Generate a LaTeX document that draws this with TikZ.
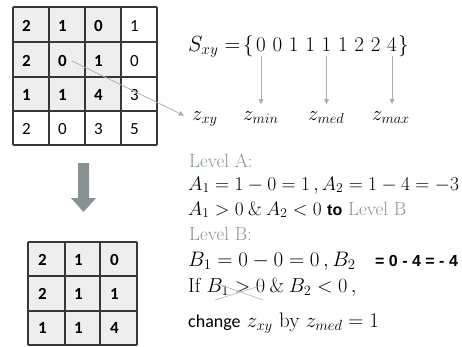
\RequirePackage{fix-cm}
\documentclass[tikz,border=0pt]{standalone}
\usepackage{fontspec}
\newfontfamily\calib{Carlito}
\newfontfamily\arialf{Liberation Sans}
\usetikzlibrary{arrows.meta,calc}
\definecolor{gridline}{RGB}{55,55,55}
\definecolor{cellfill}{RGB}{238,238,238}
\definecolor{lvl}{RGB}{135,148,148}
\definecolor{ptrgray}{RGB}{170,176,176}
\definecolor{crossgray}{RGB}{185,190,190}
\definecolor{blk}{RGB}{136,146,146}
\tikzset{
  cellnum/.style={anchor=west,inner sep=0pt,font=\calib\fontsize{17}{17}\selectfont},
  boldnum/.style={cellnum,font=\calib\bfseries\fontsize{17}{17}\selectfont},
  txt/.style={anchor=base west,inner sep=0pt},
  mathtxt/.style={txt,font=\fontsize{21}{24}\selectfont},
  ztxt/.style={txt,font=\fontsize{20.5}{24}\selectfont},
  setdigit/.style={anchor=base,inner sep=0pt,font=\fontsize{21}{24}\selectfont},
  lvltxt/.style={txt,text=lvl,font=\fontsize{19}{22}\selectfont},
  pointer/.style={draw=ptrgray,line width=0.8pt,-{Triangle[width=5pt,length=5pt]}},
  gridl/.style={draw=gridline,line width=1.1pt}
}
\begin{document}
\begin{tikzpicture}[x=1pt,y=-1pt]
\useasboundingbox (0,0) rectangle (462,346);
% ---- top grid
\fill[cellfill] (13,7) rectangle (121,111);
\foreach \x in {13,49,85,121,157} \draw[gridl] (\x,7) -- (\x,145);
\foreach \y in {7,42,77,111,145} \draw[gridl] (13,\y) -- (157,\y);
\foreach \v [count=\c] in {2,1,0} \node[boldnum] (t1\c) at (13+36*\c-36+9,26) {\v};
\node[cellnum] (t14) at (130,26) {1};
\foreach \v [count=\c] in {2,0,1} \node[boldnum] (t2\c) at (13+36*\c-36+9,61) {\v};
\node[cellnum] (t24) at (130,61) {0};
\foreach \v [count=\c] in {1,1,4} \node[boldnum] (t3\c) at (13+36*\c-36+9,95) {\v};
\node[cellnum] (t34) at (130,95) {3};
\foreach \v [count=\c] in {2,0,3,5} \node[cellnum] (t4\c) at (13+36*\c-36+9,129) {\v};
% ---- down block arrow
\fill[blk] (78,163) -- (89,163) -- (89,198) -- (96,198) -- (83.5,212) -- (71,198) -- (78,198) -- cycle;
% ---- bottom grid
\fill[cellfill] (28,242) rectangle (137,345);
\foreach \x in {28,65,100,137} \draw[gridl] (\x,242) -- (\x,345);
\foreach \y in {242,276,311,345} \draw[gridl] (28,\y) -- (137,\y);
\foreach \v [count=\c] in {2,1,0} \node[boldnum] (b1\c) at (28+36*\c-36+10,260) {\v};
\foreach \v [count=\c] in {2,1,1} \node[boldnum] (b2\c) at (28+36*\c-36+10,294) {\v};
\foreach \v [count=\c] in {1,1,4} \node[boldnum] (b3\c) at (28+36*\c-36+10,328) {\v};
% ---- set S
\node[mathtxt,font=\fontsize{22}{24}\selectfont] (S) at (188,51) {$S_{xy} =$};
\node[mathtxt] (lbr) at (243,51) {$\{$};
\foreach \v [count=\i] in {0,0,1,1,1,1,2,2,4}
  \node[setdigit] (d\i) at (261+16.375*\i-16.375,51) {$\v$};
\node[mathtxt] (rbr) at (398,51) {$\}$};
\node[ztxt] (zxy) at (192,120) {$z_{xy}$};
\node[ztxt] (zmin) at (243,120) {$z_{min}$};
\node[ztxt] (zmed) at (308,120) {$z_{med}$};
\node[ztxt] (zmax) at (372,120) {$z_{max}$};
\draw[pointer] ([yshift=-5pt]d1.south) -- (d1.south |- 0,104);
\draw[pointer] ([yshift=-5pt]d5.south) -- (d5.south |- 0,104);
\draw[pointer] ([yshift=-5pt]d9.south) -- (d9.south |- 0,104);
\draw[pointer] ([xshift=5pt]t22.east) -- ($(zxy.west)+(-8,-3)$);
% ---- levels
\node[lvltxt] (la) at (189,167) {Level A:};
\node[mathtxt,font=\fontsize{19.5}{24}\selectfont] (a1) at (188,190) {$A_1 = 1 - 0 = 1\,, A_2 = 1 - 4 = -3$};
\node[mathtxt,font=\fontsize{19.3}{24}\selectfont] (a2) at (188,215) {$A_1 > 0 \mathbin{\&} A_2 < 0$};
\node[txt,font=\arialf\bfseries\fontsize{16}{18}\selectfont] (to) at (327,215) {to};
\node[lvltxt] (lb2) at (348,215) {Level B};
\node[lvltxt] (lb) at (189,240) {Level B:};
\node[mathtxt] (b1) at (188,266) {$B_1 = 0 - 0 = 0\,, B_2$};
\node[txt,font=\arialf\bfseries\fontsize{16}{18}\selectfont] (b1r) at (375,266) {= 0 - 4 = - 4};
\node[mathtxt,font=\fontsize{20.3}{24}\selectfont] (if) at (188,292) {If $B_1 > 0 \mathbin{\&} B_2 < 0\,,$};
\draw[crossgray,line width=0.7pt] (215,283) -- (263,300);
\draw[crossgray,line width=0.7pt] (215,300) -- (263,285);
\node[mathtxt] (ch) at (188,327) {{\calib\fontsize{18}{20}\selectfont change} $z_{xy}$ by $z_{med} = 1$};
\end{tikzpicture}
\end{document}
